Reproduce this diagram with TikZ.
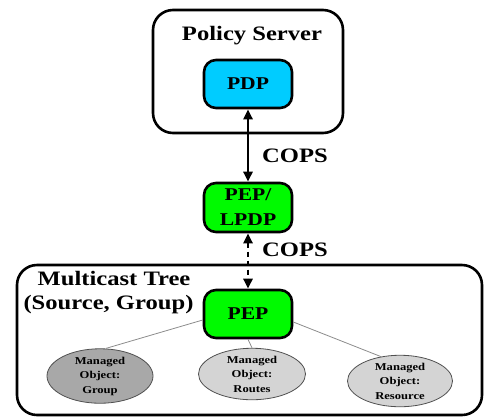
\documentclass[tikz,border=0pt]{standalone}
\usepackage{fontspec}
\setmainfont[FakeStretch=1.2]{Liberation Serif}
\usetikzlibrary{arrows.meta,shapes.geometric}
\definecolor{pdpcyan}{RGB}{0,204,255}
\definecolor{pepgreen}{RGB}{0,250,0}
\definecolor{objdark}{RGB}{168,168,168}
\definecolor{objlight}{RGB}{212,212,212}
\definecolor{objline}{RGB}{80,80,80}
\begin{document}
\begin{tikzpicture}[x=1pt,y=-1pt,
  frame/.style={draw=black,line width=2.6pt,rounded corners=20pt,inner sep=0pt},
  agent/.style={draw=black,line width=2.6pt,rounded corners=12pt,minimum width=88pt,
    minimum height=48pt,inner sep=0pt,font=\fontsize{18}{25}\selectfont\bfseries,align=center},
  title/.style={font=\fontsize{20.5}{24}\selectfont\bfseries,inner sep=0pt},
  object/.style={ellipse,draw=objline,line width=0.8pt,inner sep=0pt,
    font=\fontsize{10.5}{14.5}\selectfont\bfseries,align=center},
  link/.style={draw=black!45,line width=0.8pt},
  cops/.style={line width=2.6pt,{Triangle[length=10pt,width=9pt]}-{Triangle[length=10pt,width=9pt]}}
]
\useasboundingbox (0,0) rectangle (484,416);

% policy server with its decision point
\node[frame,minimum width=190pt,minimum height=123pt] (ps) at (248,71.5) {};
\node[title] (pstitle) at (252,36) {Policy Server};
\node[agent,fill=pdpcyan] (pdp) at (248,84) {PDP};

% local enforcement / decision point
\node[agent,fill=pepgreen,minimum height=49pt] (lpdp) at (248,207.5) {PEP/\\LPDP};

% multicast tree domain
\node[frame,minimum width=465pt,minimum height=150pt] (mt) at (249.5,340) {};
\node[title] (mttitle) at (114,279) {Multicast Tree};
\node[title] (mtsub) at (108.5,305) {(Source, Group)};
\node[agent,fill=pepgreen] (pep) at (248,314) {PEP};

% managed objects
\node[object,fill=objdark,minimum width=106pt,minimum height=42pt] (grp) at (100,376) {Managed\\Object:\\Group};
\node[object,fill=objlight,minimum width=107pt,minimum height=42pt] (rte) at (252,374) {Managed\\Object:\\Routes};
\node[object,fill=objlight,minimum width=105pt,minimum height=45pt] (res) at (400,381) {Managed\\Object:\\Resource};

\draw[link] ([yshift=-6pt]pep.west) -- ([xshift=6pt]grp.north);
\draw[link] (pep.south) -- (rte.north);
\draw[link] ([yshift=-8pt]pep.east) -- (res.128);

% COPS connections
\draw[cops] (pdp.south) -- (lpdp.north);
\draw[cops,dash pattern=on 5pt off 4pt] (lpdp.south) -- (pep.north);
\node[title] (cops1) at (295,156) {COPS};
\node[title] (cops2) at (295,250) {COPS};
\end{tikzpicture}
\end{document}
